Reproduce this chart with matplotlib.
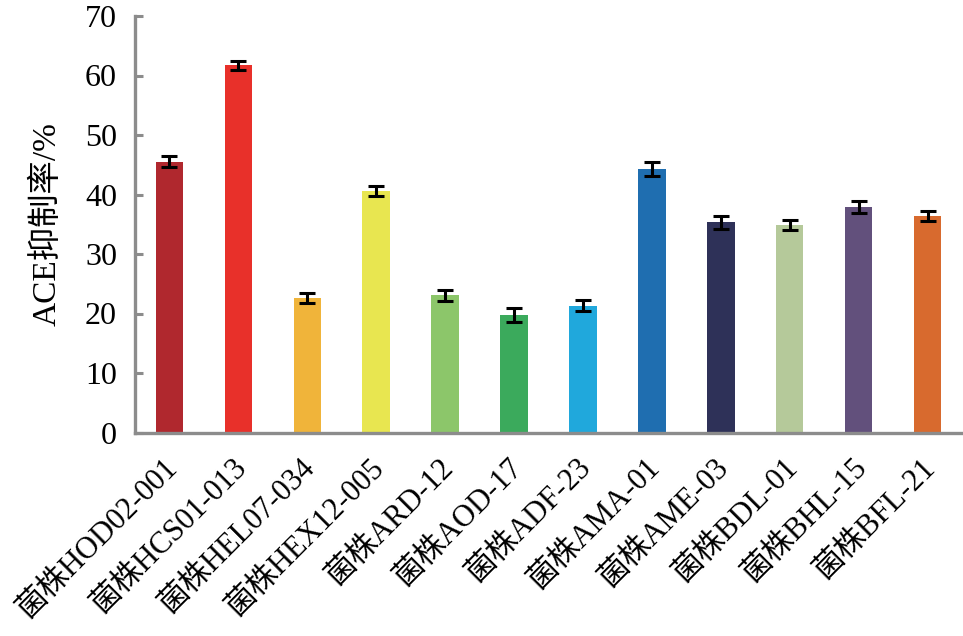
import matplotlib
matplotlib.use("Agg")
import matplotlib.pyplot as plt
import numpy as np

plt.rcParams['font.family'] = ['Liberation Serif', 'Noto Sans CJK SC', 'DejaVu Sans']

strains = ["菌株HOD02-001", "菌株HCS01-013", "菌株HEL07-034", "菌株HEX12-005",
           "菌株ARD-12", "菌株AOD-17", "菌株ADF-23", "菌株AMA-01",
           "菌株AME-03", "菌株BDL-01", "菌株BHL-15", "菌株BFL-21"]
inhibition = [45.5, 61.7, 22.6, 40.6, 23.1, 19.8, 21.3, 44.3, 35.3, 34.9, 37.9, 36.4]
errors = [0.93, 0.81, 0.82, 0.87, 0.93, 1.2, 0.93, 1.2, 1.15, 0.84, 0.93, 0.87]
colors = ["#B0282E", "#E8302A", "#F0B43A", "#E8E650", "#8CC66A", "#3BAA5C",
          "#20A8DC", "#1F6EB0", "#2E3158", "#B5C99A", "#62507C", "#D86A2E"]
yticks = [0, 10, 20, 30, 40, 50, 60, 70]

fig = plt.figure(figsize=(9.63, 6.36), dpi=100)
ax = fig.add_axes([135/963, 1 - 432.5/636, 827/963, (432.5 - 16)/636])

x = np.arange(len(strains))
ax.bar(x, inhibition, width=0.40, color=colors, zorder=2)
ax.errorbar(x, inhibition, yerr=errors, fmt='none', ecolor='black',
            elinewidth=2.2, capsize=5.6, capthick=2.2, zorder=3)

ax.set_xlim(-0.5, len(strains) - 0.5)
ax.set_ylim(0, 70)
ax.set_yticks(yticks)
ax.set_yticklabels([str(v) for v in yticks], fontsize=23)

ax.set_xticks(x)
ax.set_xticklabels([])
for xi, name in zip(x, strains):
    ax.annotate(name, xy=(xi, 0), xycoords=('data', 'axes fraction'),
                xytext=(10, -15), textcoords='offset points',
                rotation=45, ha='right', va='top', fontsize=22)

gray = "#8C8C8C"
for s in ['top', 'right']:
    ax.spines[s].set_visible(False)
for s in ['left', 'bottom']:
    ax.spines[s].set_color(gray)
    ax.spines[s].set_linewidth(2.4)

ax.tick_params(axis='y', direction='in', length=6, width=2.2, color=gray, pad=13)
ax.tick_params(axis='x', length=0)

ax.set_ylabel("ACE抑制率/%", fontsize=24, labelpad=16)

fig.savefig("out.png", dpi=100)
